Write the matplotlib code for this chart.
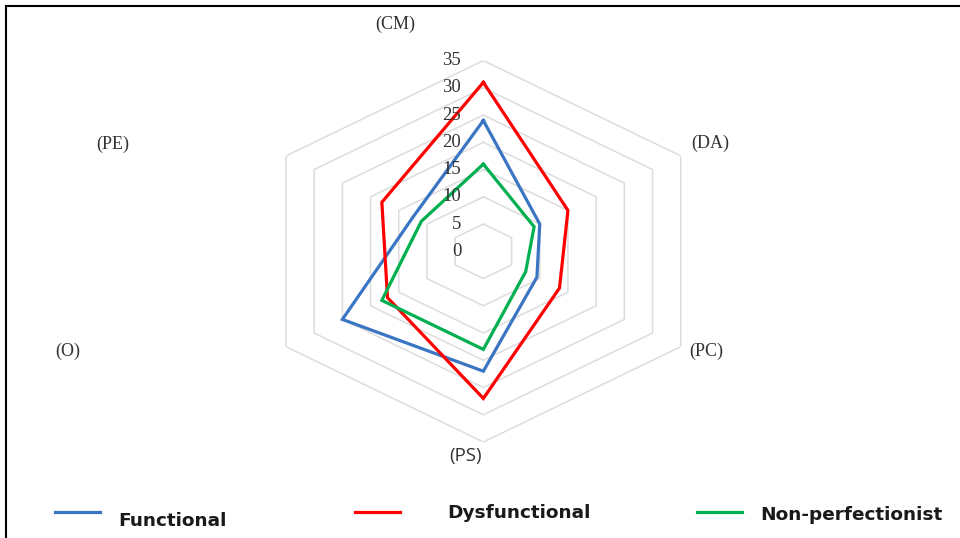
import numpy as np
import matplotlib.pyplot as plt
from matplotlib.lines import Line2D

# ── Data ──────────────────────────────────────────────────────────────────────
categories        = ["(CM)", "(DA)", "(PC)", "(PS)", "(O)", "(PE)"]
functional        = [24, 10, 9.5, 22, 25, 12.5]
dysfunctional     = [31, 15, 13.5, 27, 17, 18]
non_perfectionist = [16, 9, 7.5, 18, 18, 11]
ring_values       = [5, 10, 15, 20, 25, 30, 35]
tick_values       = [0, 5, 10, 15, 20, 25, 30, 35]

series = [
    ("Functional",        functional,        "#3A75C4"),
    ("Dysfunctional",     dysfunctional,     "#FF0000"),
    ("Non-perfectionist", non_perfectionist, "#00B050"),
]

W, H = 960, 538


def fx(x):
    return x / W


def fy(y):
    return 1 - y / H


fig = plt.figure(figsize=(W / 100, H / 100), dpi=100)

# ── Radar (stretched horizontally like the source) ───────────────────────────
ax = fig.add_axes([0.2661, 0.1784, 0.4748, 0.709], projection="polar")
ax.set_aspect("auto")
ax.set_theta_zero_location("N")
ax.set_theta_direction(-1)
ax.set_ylim(0, 35)
ax.grid(False)
ax.set_xticks([])
ax.set_yticks([])
ax.spines["polar"].set_visible(False)
ax.patch.set_alpha(0)

theta = np.linspace(0, 2 * np.pi, len(categories), endpoint=False)
theta_c = np.append(theta, theta[0])

for r in ring_values:
    ax.plot(theta_c, [r] * len(theta_c), color="#DCDCDC", lw=1.1, zorder=1)

for name, vals, color in series:
    ax.plot(theta_c, list(vals) + [vals[0]], color=color, lw=2.3, zorder=3,
            solid_joinstyle="miter")

for v in tick_values:
    ax.annotate(str(v), xy=(0, v), xytext=(-16, 0), textcoords="offset points",
                ha="right", va="center", fontsize=13.5,
                family="Liberation Serif", color="#333333", zorder=4)

# ── Category labels ───────────────────────────────────────────────────────────
label_pos = {
    "(CM)": (395, 24), "(DA)": (710, 143), "(PC)": (706, 351),
    "(PS)": (466, 456), "(O)": (68, 351), "(PE)": (113, 144),
}
for cat in categories:
    x, y = label_pos[cat]
    fam = "Open Sans" if cat == "(PS)" else "Liberation Serif"
    fs = 13.5 if cat == "(PS)" else 13
    fig.text(fx(x), fy(y), cat, ha="center", va="center", fontsize=fs,
             family=fam, color="#333333")

# ── Legend (hand placed like the source) ──────────────────────────────────────
legend_lines = [(55, 100, 512), (355, 400, 512), (697, 742, 512)]
legend_text = [(118, 521), (447, 513), (760, 515)]
for (x0, x1, y), (tx, ty), (name, _, color) in zip(legend_lines, legend_text, series):
    fig.add_artist(Line2D([fx(x0), fx(x1)], [fy(y), fy(y)], color=color, lw=2.3))
    fig.text(fx(tx), fy(ty), name, ha="left", va="center", fontsize=13.3,
             fontweight="bold", family="DejaVu Sans", color="#1a1a1a")

# ── Frame lines (top / left) ──────────────────────────────────────────────────
fig.add_artist(Line2D([fx(6), 1], [fy(6), fy(6)], color="black", lw=1.5))
fig.add_artist(Line2D([fx(6), fx(6)], [fy(6), 0], color="black", lw=1.5))

fig.savefig("out.png", dpi=100)
